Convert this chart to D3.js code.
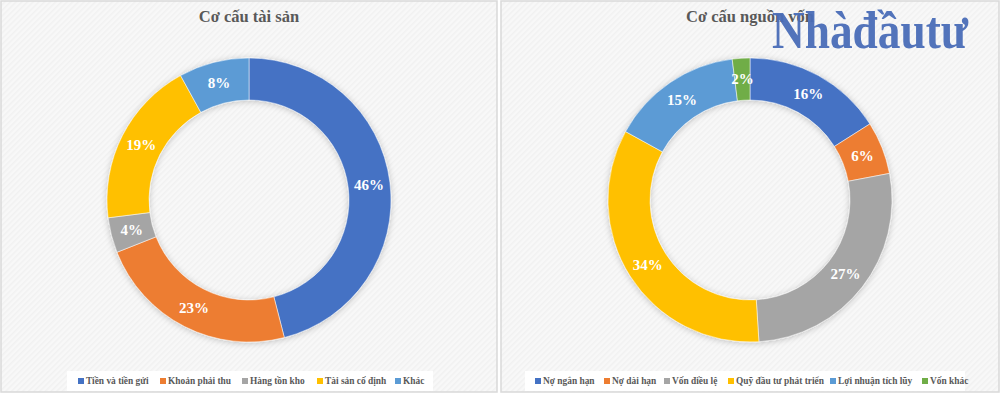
<!DOCTYPE html>
<html>
<head>
<meta charset="utf-8">
<script src="https://cdn.jsdelivr.net/npm/d3@7"></script>
<style>
  html, body { margin: 0; padding: 0; background: #fff; }
  svg { display: block; }
</style>
</head>
<body>
<svg id="chart" width="1000" height="394"></svg>
<script>
// dữ liệu
const assetLabels = ["Tiền và tiền gửi", "Khoản phải thu", "Hàng tồn kho", "Tài sản cố định", "Khác"];
const assetValues = [46, 23, 4, 19, 8];

const capitalLabels = ["Nợ ngắn hạn", "Nợ dài hạn", "Vốn điều lệ", "Quỹ đầu tư phát triển", "Lợi nhuận tích lũy", "Vốn khác"];
const capitalValues = [16, 6, 27, 34, 15, 2];

const palette = ["#4472C4", "#ED7D31", "#A5A5A5", "#FFC000", "#5B9BD5", "#70AD47"];

const svg = d3.select("#chart");
const serif = "'Liberation Serif', 'Times New Roman', serif";

const defs = svg.append("defs");
const pat = defs.append("pattern")
  .attr("id", "hatch")
  .attr("patternUnits", "userSpaceOnUse")
  .attr("width", 4).attr("height", 4)
  .attr("patternTransform", "rotate(45)");
pat.append("rect").attr("width", 4).attr("height", 4).attr("fill", "#f8f8f8");
pat.append("rect").attr("width", 1.5).attr("height", 4).attr("fill", "#f1f1f1");

const shadow = defs.append("filter").attr("id", "shadow")
  .attr("x", "-20%").attr("y", "-20%").attr("width", "140%").attr("height", "140%");
shadow.append("feDropShadow")
  .attr("dx", 0).attr("dy", 1)
  .attr("stdDeviation", 3)
  .attr("flood-color", "#000")
  .attr("flood-opacity", 0.22);

function drawPanel(x0, w, title, labels, values, legendX, legendW, markerXs) {
  const panel = svg.append("g").attr("transform", `translate(${x0},0)`);

  panel.append("rect")
    .attr("x", 1).attr("y", 1)
    .attr("width", w - 2).attr("height", 391)
    .attr("fill", "url(#hatch)")
    .attr("stroke", "#d9d9d9")
    .attr("stroke-width", 1.5);

  panel.append("text")
    .attr("x", w / 2).attr("y", 22)
    .attr("text-anchor", "middle")
    .attr("font-family", serif)
    .attr("font-weight", "bold")
    .attr("font-size", 16.5)
    .attr("fill", "#595959")
    .text(title);

  const cx = w / 2, cy = 200;
  const rOuter = 142, rInner = 100;

  const pie = d3.pie().sort(null).value(d => d);
  const arc = d3.arc().innerRadius(rInner).outerRadius(rOuter);
  const arcs = pie(values);

  const g = panel.append("g").attr("transform", `translate(${cx},${cy})`);

  g.append("g")
    .attr("filter", "url(#shadow)")
    .selectAll("path")
    .data(arcs)
    .join("path")
    .attr("d", arc)
    .attr("fill", (d, i) => palette[i])
    .attr("stroke", "#fff")
    .attr("stroke-width", 0.5);

  g.selectAll("text.lbl")
    .data(arcs)
    .join("text")
    .attr("class", "lbl")
    .attr("transform", d => `translate(${arc.centroid(d)})`)
    .attr("text-anchor", "middle")
    .attr("dy", "0.35em")
    .attr("font-family", serif)
    .attr("font-weight", "bold")
    .attr("font-size", 15)
    .attr("fill", "#fff")
    .text(d => d.data + "%");

  // chú thích
  const lg = panel.append("g");
  lg.append("rect")
    .attr("x", legendX).attr("y", 371)
    .attr("width", legendW).attr("height", 20)
    .attr("fill", "#fff");

  const item = lg.selectAll("g.item")
    .data(labels)
    .join("g")
    .attr("class", "item")
    .attr("transform", (d, i) => `translate(${markerXs[i]},381)`);

  item.append("rect")
    .attr("x", -3).attr("y", -3)
    .attr("width", 6).attr("height", 6)
    .attr("fill", (d, i) => palette[i]);

  item.append("text")
    .attr("x", 5)
    .attr("dy", "0.35em")
    .attr("font-family", serif)
    .attr("font-weight", "bold")
    .attr("font-size", 9.4)
    .attr("fill", "#595959")
    .text(d => d);
}

drawPanel(0, 498, "Cơ cấu tài sản", assetLabels, assetValues,
  67, 366, [81, 163, 245, 320, 398]);
drawPanel(500, 500, "Cơ cấu nguồn vốn", capitalLabels, capitalValues,
  25, 440, [38, 107, 167, 231, 333, 425]);

// logo mờ
svg.append("text")
  .attr("x", 772).attr("y", 48)
  .attr("font-family", serif)
  .attr("font-weight", "bold")
  .attr("font-size", 52)
  .attr("textLength", 196)
  .attr("lengthAdjust", "spacingAndGlyphs")
  .attr("fill", "#4a6db8")
  .attr("opacity", 0.95)
  .text("Nhàđầutư");
</script>
</body>
</html>
